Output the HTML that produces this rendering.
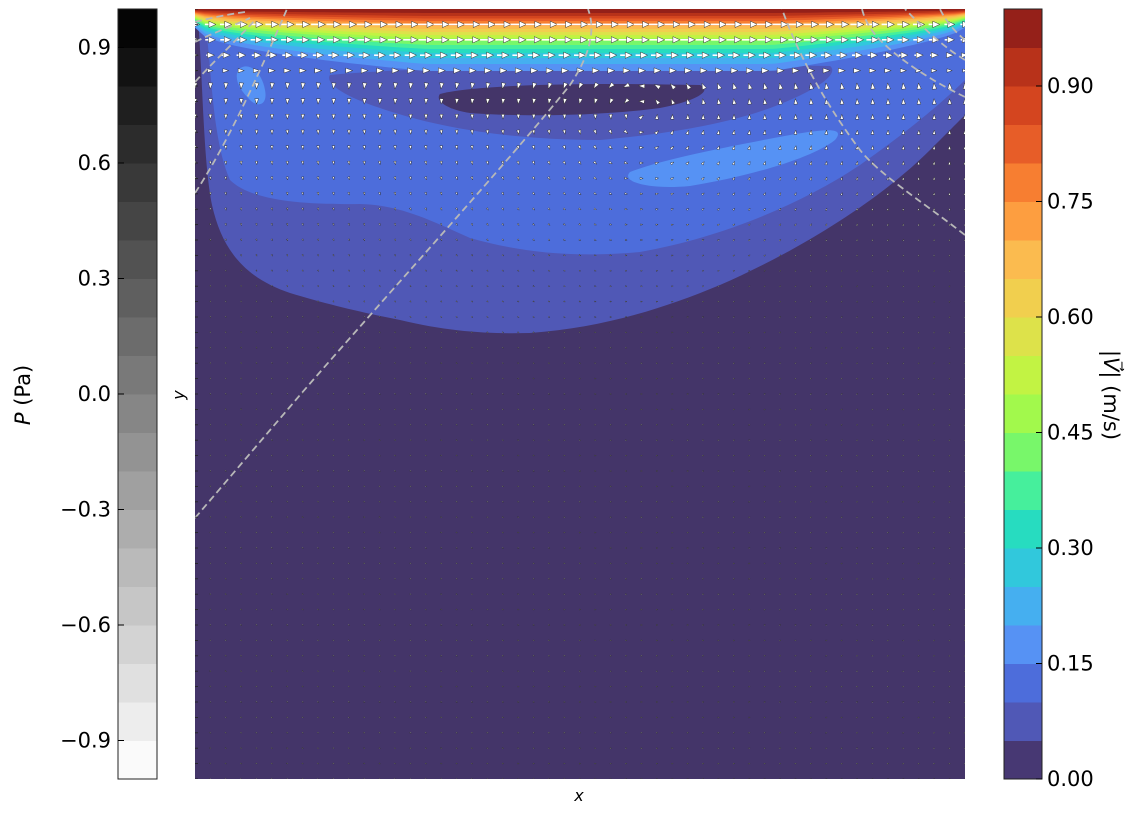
<!DOCTYPE html>
<html><head><meta charset="utf-8">
<style>
html,body{margin:0;padding:0;background:#fff;}
body{width:1143px;height:814px;overflow:hidden;font-family:"DejaVu Sans","Liberation Sans",sans-serif;}
text{font-family:"DejaVu Sans","Liberation Sans",sans-serif;}
</style></head>
<body>
<svg id="chart" width="1143" height="814" viewBox="0 0 1143 814" xmlns="http://www.w3.org/2000/svg">
  <defs><clipPath id="plotclip"><rect x="195" y="9" width="770" height="770"/></clipPath></defs>
  <g id="pbar"></g>
  <g id="vbar"></g>
  <g id="plot" clip-path="url(#plotclip)"></g>
  <text x="0" y="0" transform="translate(30,395) rotate(-90)" text-anchor="middle" font-size="21"><tspan font-style="italic">P</tspan> (Pa)</text>
  <text transform="translate(184,395) rotate(-90)" text-anchor="middle" font-size="16" font-style="italic">y</text>
  <text x="579" y="801" text-anchor="middle" font-size="16" font-style="italic">x</text>
  <text transform="translate(1104,395) rotate(90)" text-anchor="middle" font-size="21">|<tspan font-style="italic">V⃗</tspan>| (m/s)</text>
</svg>
<script>
const NS='http://www.w3.org/2000/svg';
// data arrays
const velColors=['#473873','#5058b6','#4d6ddb','#5692f4','#45aff0','#31c8dc','#27dcc0','#46ef9c','#78f76a','#a2f94c','#c2f343','#dde24a','#f1cf4e','#fbbb4f','#fd9e40','#f77e31','#e75d28','#d4451f','#b8321a','#952019'];
const velTicks=[0,0.15,0.30,0.45,0.60,0.75,0.90];
const pTicks=[-0.9,-0.6,-0.3,0.0,0.3,0.6,0.9];
const pLevels=20;
// top boundary-layer contour depths (px below lid at mid-span) for levels 0.15..0.95
const lidLevels=[0.15,0.2,0.25,0.3,0.35,0.4,0.45,0.5,0.55,0.6,0.65,0.7,0.75,0.8,0.85,0.9,0.95];
const lidDepth=[62,55,49,44,40,36,32,29,26,23,20,17,14.5,12,9.5,7,4];
// quiver speeds per row near lid (px arrow length)
const rowLen=[0,16,15,12,8];

const T=9,B=779;
const vy=v=>B-(B-T)*v;
const py=p=>B-(B-T)*(p+1)/2;
function mk(tag,attrs,parent){const e=document.createElementNS(NS,tag);for(const k in attrs)e.setAttribute(k,attrs[k]);parent.appendChild(e);return e;}

const vbar=document.getElementById('vbar');
velColors.forEach((c,i)=>{
  const r=mk('rect',{x:1004,y:vy((i+1)*0.05),width:38,height:vy(i*0.05)-vy((i+1)*0.05)+0.5,fill:c},vbar);
  
  
});
mk('rect',{x:1004,y:T,width:38,height:B-T,fill:'none',stroke:'#222','stroke-width':1},vbar);
velTicks.forEach(v=>{
  mk('line',{x1:1036,x2:1042,y1:vy(v),y2:vy(v),stroke:'#000','stroke-width':1},vbar);
  const t=mk('text',{x:1047,y:vy(v)+7,'font-size':21},vbar);t.textContent=v.toFixed(2);
  
  
});
const pbar=document.getElementById('pbar');
for(let i=0;i<pLevels;i++){
  const g=Math.round(250-i*(245/(pLevels-1)));
  const p0=-1+i*0.1;
  const r=mk('rect',{x:118,y:py(p0+0.1),width:39,height:py(p0)-py(p0+0.1)+0.5,fill:`rgb(${g},${g},${g})`},pbar);
  
  
}
mk('rect',{x:118,y:T,width:39,height:B-T,fill:'none',stroke:'#222','stroke-width':1},pbar);
pTicks.forEach(p=>{
  mk('line',{x1:118,x2:124,y1:py(p),y2:py(p),stroke:'#000','stroke-width':1},pbar);
  const t=mk('text',{x:111,y:py(p)+7,'font-size':21,'text-anchor':'end'},pbar);
  t.textContent=(p<0?'\u2212':'')+Math.abs(p).toFixed(1);
  
  
});

const plot=document.getElementById('plot');
function path(d,fill,name){const e=mk('path',{d:d,fill:fill},plot);return e;}
mk('rect',{x:195,y:9,width:770,height:770,fill:'#443569'},plot);
path('M195,9 L198,20 C203,80 203,160 212,205 C222,250 245,278 290,293 C330,305 360,312 400,320 C450,332 490,334 530,333 C600,328 660,310 720,285 C800,250 880,200 930,150 C950,130 960,120 965,115 L965,9 Z',velColors[1],'contour-0.05');
path('M205,20 C212,70 212,140 230,180 C250,200 300,205 360,204 C400,205 430,220 470,238 C520,252 570,258 640,252 C720,238 800,205 860,165 C910,130 945,100 965,80 L965,9 Z',velColors[2],'contour-0.10');
path('M330,75 C400,68 600,62 830,66 C838,72 825,85 790,100 C750,118 690,132 600,140 C500,140 430,125 380,108 C340,95 325,82 330,75 Z',velColors[1],'contour-0.10-inner');
path('M440,94 C470,86 560,82 700,85 C712,90 700,100 660,108 C600,116 520,117 470,113 C445,109 435,100 440,94 Z','#443569','contour-0.05-inner');
path('M238,70 C248,60 262,72 265,90 C268,105 258,108 250,100 C240,90 234,80 238,70 Z',velColors[3],'contour-0.15-left');
path('M630,172 C660,160 720,148 790,135 C830,128 845,128 835,140 C810,160 740,178 690,186 C650,190 620,182 630,172 Z',velColors[3],'contour-0.15-right');
function profile(x){const s=(x-195)/770;
  let f=Math.min(1, Math.pow(Math.min(s/0.3,1),0.5)) * Math.min(1, Math.pow(Math.max((1-s)/0.25,0),0.7));
  return 0.3+0.7*f;}
lidLevels.forEach((lv,k)=>{
  let d='M195,9';
  for(let x=195;x<=965;x+=10){d+=' L'+x+','+(9+lidDepth[k]*profile(x)).toFixed(1);}
  d+=' L965,9 Z';
  path(d,velColors[Math.round(lv/0.05)],'lid-contour-'+lv);
});
// quiver arrows
const qg=mk('g',{},plot);
const cx=640,cy=115;
for(let i=0;i<=50;i++){for(let j=0;j<=50;j++){
  const x=195+i*15.4,y=9+j*15.4;
  const dy=y-cy,dx=x-cx;
  let ang=Math.atan2(dy,dx)-Math.PI/2;
  let L;
  if(j<rowLen.length){L=rowLen[j]*(0.4+0.6*profile(x));ang=0;}
  else{L=Math.max(1.5,7*Math.exp(-(y-70)/130));}
  if(y>340)L=1.5;
  const ca=Math.cos(ang),sa=Math.sin(ang);
  const hl=Math.min(L,7),hw=Math.min(L*0.35,3.2);
  const tip=[x+ca*L/2,y+sa*L/2],tail=[x-ca*L/2,y-sa*L/2];
  const hb=[tip[0]-ca*hl,tip[1]-sa*hl];
  if(L>hl+1){mk('line',{x1:tail[0],y1:tail[1],x2:hb[0],y2:hb[1],stroke:'#fff','stroke-width':1.6},qg);}
  const p2=[hb[0]-sa*hw,hb[1]+ca*hw],p3=[hb[0]+sa*hw,hb[1]-ca*hw];
  mk('polygon',{points:tip+' '+p2+' '+p3,fill:'#fff',stroke:'#333','stroke-width':0.5},qg);
}}
// dashed contours
const dl=mk('g',{fill:'none',stroke:'#b8b8b8','stroke-width':1.8,'stroke-dasharray':'7,4'},plot);
['M195,518 L300,395 C400,280 510,160 570,85 C590,55 596,30 588,9',
 'M195,193 C230,140 265,60 287,9',
 'M195,82 C215,60 235,42 255,20',
 'M195,42 C215,32 235,25 250,18',
 'M195,22 C210,18 230,14 245,12',
 'M965,235 C920,200 880,175 860,150 C830,110 800,60 782,9',
 'M965,97 C930,80 900,60 880,40 C870,30 864,18 862,9',
 'M965,60 C945,48 925,30 905,9',
 'M965,40 C955,32 945,20 940,9'
].forEach((d,i)=>{const e=mk('path',{d:d},dl);});
for(let j=0;j<=50;j++){mk('line',{x1:195,x2:198,y1:9+j*15.4,y2:9+j*15.4,stroke:'#222','stroke-width':0.8},plot);}
</script>
</body></html>
